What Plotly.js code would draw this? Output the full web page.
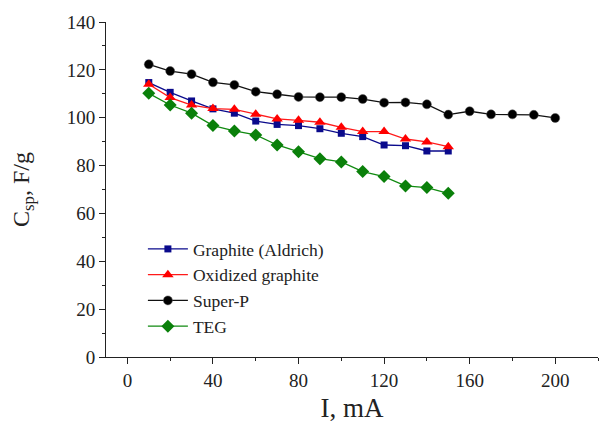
<!DOCTYPE html>
<html><head><meta charset="utf-8">
<script src="https://cdn.plot.ly/plotly-3.0.1.min.js"></script>
<style>html,body{margin:0;padding:0;background:#fff;}#chart{width:600px;height:425px;}</style>
</head><body><div id="chart"></div>
<script>
const currentA = [10,20,30,40,50,60,70,80,90,100,110,120,130,140,150];
const currentSP = [10,20,30,40,50,60,70,80,90,100,110,120,130,140,150,160,170,180,190,200];
const graphite = [114.7,110.6,107.0,103.7,101.9,98.6,97.2,96.7,95.4,93.5,92.1,88.6,88.3,86.1,86.1];
const oxidized = [114.0,108.4,105.3,103.8,103.5,101.4,99.5,98.9,98.1,96.0,94.2,94.2,91.1,89.9,87.9];
const superP = [122.3,119.5,118.2,114.8,113.7,110.9,109.8,108.7,108.6,108.6,107.8,106.3,106.4,105.6,101.3,102.7,101.4,101.4,101.2,99.9];
const teg = [110.2,105.3,101.9,96.7,94.5,92.8,88.6,85.8,82.9,81.5,77.5,75.4,71.5,70.8,68.4];
const seriesNames = ['Graphite (Aldrich)','Oxidized graphite','Super-P','TEG'];
const xTicks = [0,40,80,120,160,200];

const F = 'Liberation Serif';
const TICK_SIZE = 19;
const traces = [
  {x: currentA, y: graphite, name: seriesNames[0], mode:'lines+markers',
   line:{color:'#0a0a8c', width:1.3}, marker:{symbol:'square', size:7, color:'#0a0a8c'}},
  {x: currentA, y: oxidized, name: seriesNames[1], mode:'lines+markers',
   line:{color:'#ff1a1a', width:1.3}, marker:{symbol:'triangle-up', size:10, color:'#ff0000'}},
  {x: currentSP, y: superP, name: seriesNames[2], mode:'lines+markers',
   line:{color:'#111', width:1.3}, marker:{symbol:'circle', size:9, color:'#000', line:{color:'#555', width:0.5}}},
  {x: currentA, y: teg, name: seriesNames[3], mode:'lines+markers',
   line:{color:'#108a10', width:1.3}, marker:{symbol:'diamond', size:10, color:'#0a800a'}}
];
const layout = {
  width:600, height:425,
  margin:{l:106, r:2, t:22, b:68},
  paper_bgcolor:'#fff', plot_bgcolor:'#fff',
  font:{family:F, color:'#222', size:18},
  showlegend:true,
  legend:{x:0.075, y:0.376, xanchor:'left', yanchor:'top', font:{family:F, size:17.5, color:'#222'},
          bgcolor:'rgba(0,0,0,0)', itemwidth:40, tracegroupgap:0},
  xaxis:{range:[-10,220], tickmode:'array', tickvals:xTicks, ticks:'outside', ticklen:6, tickwidth:1,
         tickcolor:'#222', showline:true, linecolor:'#222', linewidth:1, showgrid:false, zeroline:false,
         minor:{dtick:20, tick0:0, ticks:'outside', ticklen:3, tickcolor:'#222', showgrid:false},
         tickfont:{family:F, size:TICK_SIZE, color:'#222'},
         title:{text:'I, mA', font:{family:F, size:27, color:'#222'}, standoff:8}},
  yaxis:{range:[0,140], dtick:20, ticks:'outside', ticklen:6, tickwidth:1, tickcolor:'#222',
         showline:true, linecolor:'#222', linewidth:1, showgrid:false, zeroline:false,
         minor:{dtick:10, ticks:'outside', ticklen:3, tickcolor:'#222', showgrid:false},
         tickfont:{family:F, size:TICK_SIZE, color:'#222'},
         title:{text:'C<sub>sp</sub>, F/g', font:{family:F, size:24, color:'#222'}, standoff:30}}
};
Plotly.newPlot('chart', traces, layout, {displayModeBar:false}).then(gd => {
  // make sure the tick labels really use the serif font at the intended size
  gd.querySelectorAll('.xtick text').forEach(t => {
    const before = t.getBoundingClientRect();
    if (Math.abs(parseFloat(getComputedStyle(t).fontSize) - TICK_SIZE) < 0.5) return;
    t.style.fontFamily = F; t.style.fontSize = TICK_SIZE + 'px'; t.style.fill = '#222';
    const after = t.getBoundingClientRect();
    const y = parseFloat(t.getAttribute('y') || 0);
    t.setAttribute('y', y + (before.top + 5 - after.top));
  });
  gd.querySelectorAll('.ytick text').forEach(t => {
    const before = t.getBoundingClientRect();
    if (Math.abs(parseFloat(getComputedStyle(t).fontSize) - TICK_SIZE) < 0.5) return;
    t.style.fontFamily = F; t.style.fontSize = TICK_SIZE + 'px'; t.style.fill = '#222';
    const after = t.getBoundingClientRect();
    const y = parseFloat(t.getAttribute('y') || 0);
    const cb = before.top + before.height / 2, ca = after.top + after.height / 2;
    t.setAttribute('y', y + (cb - ca));
  });
});
</script></body></html>
